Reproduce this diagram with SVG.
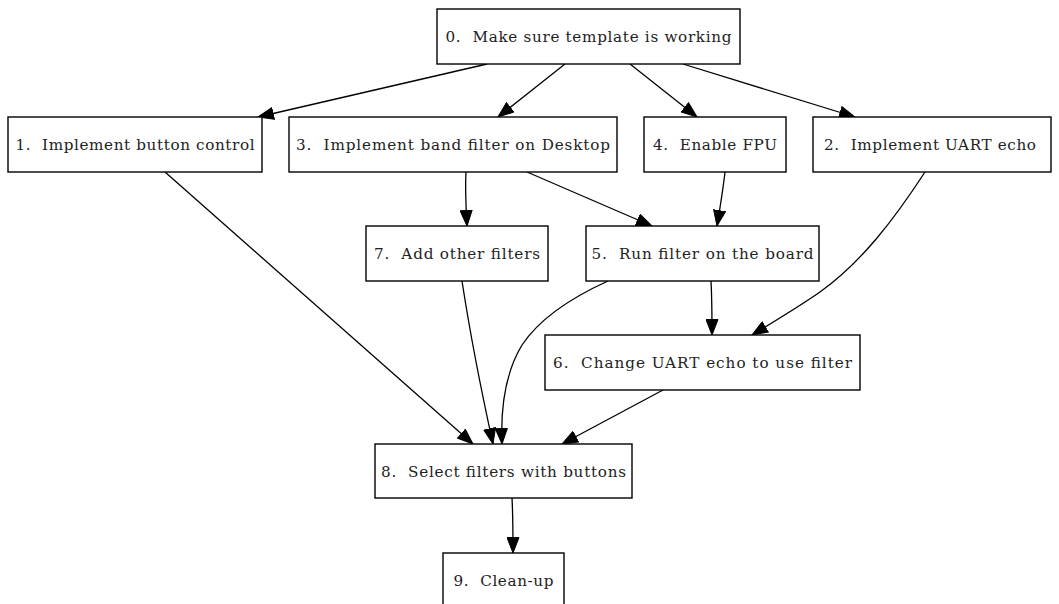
<svg xmlns="http://www.w3.org/2000/svg" width="1059" height="604" viewBox="0 0 1059 604">
<style>
.box{fill:#fff;stroke:#000;stroke-width:1.4}
.lbl{font-family:"DejaVu Serif","Liberation Serif",serif;font-size:15.2px;fill:#222;text-anchor:middle;white-space:pre}
.edge{fill:none;stroke:#000;stroke-width:1.3;marker-end:url(#ah)}
</style>
<defs>
<marker id="ah" markerUnits="userSpaceOnUse" markerWidth="17" markerHeight="13" refX="16" refY="6.5" orient="auto" viewBox="0 0 17 13">
<path d="M0.5,0.5 L16,6.5 L0.5,12.5 z" fill="#000" stroke="#000" stroke-width="1"/>
</marker>
</defs>
<rect width="1059" height="604" fill="#fff"/>
<g id="connectors">
<path class="edge" d="M487,64 L258,117"/>
<path class="edge" d="M565,64 L498,117"/>
<path class="edge" d="M630,64 L697,117"/>
<path class="edge" d="M683,64 L855,117"/>
<path class="edge" d="M466,172 C465,190 466,208 467,226"/>
<path class="edge" d="M527,172 L652,226"/>
<path class="edge" d="M725,172 C723,190 720,208 717,226"/>
<path class="edge" d="M925,172 C895,218 862,262 820,292 C800,306 780,318 752,335"/>
<path class="edge" d="M711,281 C712,299 712,317 712,335"/>
<path class="edge" d="M608,281 C575,296 540,318 522,345 C502,378 501,420 502,444"/>
<path class="edge" d="M663,390 L562,444"/>
<path class="edge" d="M462,281 C468,320 480,385 493,444"/>
<path class="edge" d="M165,172 L473,444"/>
<path class="edge" d="M512,498 C513,516 513,535 513,553"/>
</g>
<g id="n0"><rect class="box" x="437" y="9" width="303" height="55"/><text class="lbl" x="588.5" y="42" textLength="286" lengthAdjust="spacing">0.  Make sure template is working</text></g>
<g id="n1"><rect class="box" x="8" y="117" width="254" height="55"/><text class="lbl" x="135" y="150" textLength="239" lengthAdjust="spacing">1.  Implement button control</text></g>
<g id="n3"><rect class="box" x="289" y="117" width="328" height="55"/><text class="lbl" x="453" y="150" textLength="314" lengthAdjust="spacing">3.  Implement band filter on Desktop</text></g>
<g id="n4"><rect class="box" x="644" y="117" width="142" height="55"/><text class="lbl" x="715" y="150" textLength="124" lengthAdjust="spacing">4.  Enable FPU</text></g>
<g id="n2"><rect class="box" x="813" y="117" width="238" height="55"/><text class="lbl" x="930" y="150" textLength="212" lengthAdjust="spacing">2.  Implement UART echo</text></g>
<g id="n7"><rect class="box" x="366" y="226" width="182" height="55"/><text class="lbl" x="457" y="259" textLength="166" lengthAdjust="spacing">7.  Add other filters</text></g>
<g id="n5"><rect class="box" x="586" y="226" width="233" height="55"/><text class="lbl" x="702.5" y="259" textLength="222" lengthAdjust="spacing">5.  Run filter on the board</text></g>
<g id="n6"><rect class="box" x="545" y="335" width="315" height="55"/><text class="lbl" x="702.5" y="368" textLength="299" lengthAdjust="spacing">6.  Change UART echo to use filter</text></g>
<g id="n8"><rect class="box" x="375" y="444" width="257" height="54"/><text class="lbl" x="503.5" y="477" textLength="245" lengthAdjust="spacing">8.  Select filters with buttons</text></g>
<g id="n9"><rect class="box" x="443" y="553" width="121" height="56"/><text class="lbl" x="503.5" y="586" textLength="100" lengthAdjust="spacing">9.  Clean-up</text></g>
</svg>
